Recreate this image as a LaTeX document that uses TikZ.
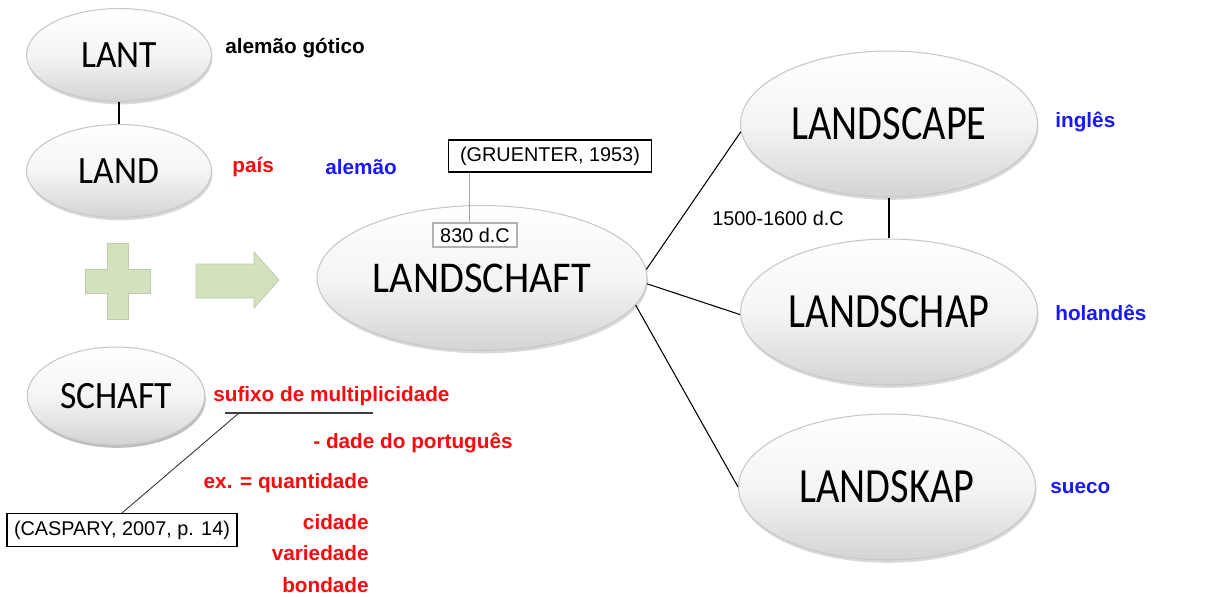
\documentclass[tikz,border=0pt]{standalone}
\usepackage{fontspec}
\setmainfont{Liberation Sans}
\newfontfamily\wordfont[FakeStretch=0.92]{Carlito}
\newfontfamily\narrowfont[FakeStretch=0.82]{Carlito}
\usetikzlibrary{positioning,shapes.geometric,shadows}
\definecolor{plusgreen}{RGB}{212,225,190}
\definecolor{plusedge}{RGB}{188,204,168}
\definecolor{langblue}{RGB}{25,25,245}
\definecolor{notered}{RGB}{250,10,10}

\begin{document}
\begin{tikzpicture}[x=0.02cm,y=-0.02cm,
  word/.style 2 args={ellipse,draw=black!22,line width=0.6pt,top color=white,bottom color=black!17,middle color=black!4,minimum width=#1,minimum height=#2,inner sep=0pt,drop shadow={shadow xshift=0.6pt,shadow yshift=-1.6pt,opacity=0.3}},
  smallword/.style={word={3.7cm}{1.86cm},font=\wordfont\fontsize{22}{26}\selectfont},
  bigword/.style={word={5.94cm}{2.92cm},font=\narrowfont\fontsize{28}{32}\selectfont},
  note/.style={font=\bfseries\fontsize{11.8}{14}\selectfont,inner sep=0pt},
  source/.style={draw,line width=0.6pt,font=\fontsize{11.3}{14}\selectfont,inner sep=0pt,fill=white},
  link/.style={draw,line width=0.6pt},
]
\useasboundingbox (0,0) rectangle (1224,596);

% left column
\node (lant) [smallword] at (119,55) {LANT};
\node (land) [smallword] at (119,171) {LAND};
\node (schaft) [smallword,word={3.55cm}{1.96cm}] at (116,396) {SCHAFT};
\draw[link] (lant.south) -- (land.north);

\fill[plusgreen,draw=plusedge] (85,269) -- (107,269) -- (107,243) -- (128,243) -- (128,269) -- (150,269)
  -- (150,293) -- (128,293) -- (128,319) -- (107,319) -- (107,293) -- (85,293) -- cycle;
\fill[plusgreen,draw=plusedge] (196,264) -- (254,264) -- (254,252) -- (279,280) -- (254,308) -- (254,298)
  -- (196,298) -- cycle;

\node (gothic) [note,anchor=west] at (225,48) {alemão gótico};
\node (pais) [note,anchor=west,text=notered] at (232,167) {país};
\node (german) [note,anchor=west,text=langblue] at (325,167) {alemão};

% centre
\node (landschaft) [word={6.6cm}{2.9cm},font=\wordfont\fontsize{25}{29}\selectfont] at (482,278) {LANDSCHAFT};
\node (gruenter) [source,minimum width=4.06cm,minimum height=0.64cm] at (550,156) {(GRUENTER, 1953)};
\node (dc830) [source,draw=black!30,minimum width=1.68cm,minimum height=0.48cm] at (475,235) {830 d.C};
\draw[black!35,line width=0.6pt] ([xshift=-3.4pt]dc830.north) -- ([xshift=-3.4pt]dc830.north |- gruenter.south);

% right column
\node (landscape) [bigword] at (889,124) {LANDSCAPE};
\node (landschap) [bigword] at (889,312) {LANDSCHAP};
\node (landskap) [bigword] at (887,487) {LANDSKAP};
\draw[link] (landscape.south) -- (landschap.north);
\draw[link] (landschaft.3) -- (landscape.183);
\draw[link] (landschaft.358) -- (landschap.181);
\draw[link] (landschaft.350) -- (landskap.west);

\node (period) [font=\fontsize{11.3}{14}\selectfont,inner sep=0pt,anchor=west] at (712,218) {1500-1600 d.C};
\node (english) [note,anchor=west,text=langblue] at (1055,122) {inglês};
\node (dutch) [note,anchor=west,text=langblue] at (1055,313) {holandês};
\node (swedish) [note,anchor=west,text=langblue] at (1050,488) {sueco};

% suffix notes
\node (suffix) [note,anchor=west,text=notered] at (213,396) {sufixo de multiplicidade};
\node (dade) [note,anchor=west,text=notered] at (313,443) {- dade do português};
\node (example) [note,anchor=east,text=notered] at (369,483) {ex. = quantidade};
\node (cidade) [note,anchor=east,text=notered] at (369,522) {cidade};
\node (variedade) [note,anchor=east,text=notered] at (369,553) {variedade};
\node (bondade) [note,anchor=east,text=notered] at (369,585) {bondade};

\coordinate (ulstart) at (225,413);
\coordinate (ulend) at (373,413);
\coordinate (hook) at (239,413);
\node (caspary) [source,minimum width=4.6cm,minimum height=0.66cm] at (122,530) {(CASPARY, 2007, p. 14)};
\draw[black!75,line width=0.8pt] (ulstart) -- (ulend);
\draw[black!80,line width=0.5pt] (hook) -- (caspary.north);
\end{tikzpicture}
\end{document}
